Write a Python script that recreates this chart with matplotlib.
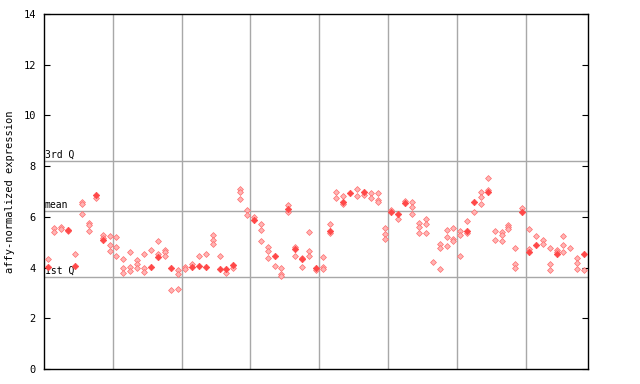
import matplotlib
matplotlib.use("Agg")
import matplotlib.pyplot as plt

# ------------------------------------------------------------
# values (sample index -> expression)
# ------------------------------------------------------------
N_SAMPLES = 79
GROUP_BOUNDS = [10, 20, 30, 40, 50, 60, 70]

Q1 = 3.63
MEAN = 6.22
Q3 = 8.21

# hollow (checkered) diamonds
hollow_x = [
    0, 1, 1, 2, 2, 3, 4, 5, 5, 5, 6, 6, 6, 7, 8, 8, 9, 9, 9, 10, 10, 10,
    11, 11, 11, 12, 12, 12, 13, 13, 13, 14, 14, 14, 15, 16, 16, 17, 17, 17,
    18, 19, 19, 19, 20, 20, 21, 22, 23, 24, 24, 24, 25, 26, 27, 28, 28, 28,
    29, 29, 30, 31, 31, 31, 32, 32, 32, 33, 34, 34, 34, 35, 35, 36, 36, 37,
    37, 38, 38, 38, 39, 40, 40, 40, 41, 41, 42, 42, 43, 43, 45, 45, 46, 47,
    47, 48, 48, 48, 49, 49, 49, 50, 51, 52, 53, 53, 53, 54, 54, 54, 55, 55,
    55, 56, 57, 57, 57, 58, 58, 58, 59, 59, 59, 60, 60, 60, 61, 61, 62, 63,
    63, 63, 64, 64, 65, 65, 66, 66, 66, 67, 67, 67, 68, 68, 68, 69, 70, 70,
    71, 72, 72, 73, 73, 73, 74, 74, 75, 75, 75, 76, 77, 77, 77, 78,
]
hollow_y = [
    4.34, 5.55, 5.42, 5.61, 5.51, 5.45, 4.52, 6.57, 6.50, 6.10, 5.75, 5.67, 5.43, 6.76, 5.27, 5.18, 5.23, 4.88, 4.64, 5.19, 4.81, 4.44,
    4.32, 3.99, 3.78, 4.60, 4.01, 3.86, 4.29, 4.15, 3.97, 4.52, 3.98, 3.81, 4.68, 5.04, 4.52, 4.68, 4.60, 4.45,
    3.10, 3.89, 3.74, 3.14, 4.01, 3.94, 4.13, 4.44, 4.52, 5.27, 5.07, 4.95, 4.44, 3.77, 3.99, 7.08, 6.97, 6.69,
    6.26, 6.06, 5.98, 5.70, 5.47, 5.04, 4.80, 4.64, 4.36, 4.05, 3.97, 3.74, 3.65, 6.45, 6.21, 4.80, 4.44, 4.38,
    4.01, 5.39, 4.64, 4.44, 3.90, 4.40, 4.01, 3.93, 5.70, 5.35, 6.97, 6.73, 6.81, 6.49, 7.08, 6.81, 6.85, 6.93,
    6.73, 6.93, 6.65, 6.57, 5.55, 5.31, 5.11, 6.26, 5.90, 6.61, 6.57, 6.37, 6.10, 5.74, 5.59, 5.35, 5.90, 5.70,
    5.35, 4.21, 4.92, 4.76, 3.93, 5.47, 5.19, 4.84, 5.55, 5.11, 5.03, 5.43, 5.27, 4.44, 5.82, 5.35, 6.18, 6.97,
    6.77, 6.49, 7.52, 7.06, 5.43, 5.07, 5.39, 5.27, 5.03, 5.67, 5.59, 5.51, 4.76, 4.13, 3.97, 6.34, 5.51, 4.72,
    5.23, 5.07, 4.92, 4.76, 4.13, 3.89, 4.68, 4.60, 5.23, 4.88, 4.60, 4.76, 4.36, 4.17, 3.93, 3.89,
]

# solid diamonds
solid_x = [0, 3, 4, 7, 8, 15, 16, 18, 21, 22, 23, 25, 26, 27, 30, 33, 35, 36, 37,
           39, 41, 43, 44, 46, 50, 51, 52, 61, 62, 64, 69, 70, 71, 74, 78]
solid_y = [4.03, 5.48, 4.07, 6.86, 5.10, 4.03, 4.43, 3.99, 4.04, 4.07, 4.03, 3.95, 3.96, 4.11, 5.86, 4.47, 6.33, 4.72, 4.32,
           3.97, 5.43, 6.57, 6.93, 6.97, 6.18, 6.10, 6.53, 5.43, 6.60, 6.97, 6.18, 4.60, 4.90, 4.52, 4.53]

Y_TICKS = [0, 2, 4, 6, 8, 10, 12, 14]

MONO = "DejaVu Sans Mono"
GRID_COLOR = "#a8a8a8"
RED = "#ff4848"
PINK = "#ffb4b4"


def main() -> None:
    fig = plt.figure(figsize=(6.4, 3.84), dpi=100)
    ax = fig.add_axes([0.069, 0.039, 0.849, 0.9245])

    ax.set_xlim(0, N_SAMPLES)
    ax.set_ylim(0, 14)

    # group separators + quartile lines
    for b in GROUP_BOUNDS:
        ax.axvline(b, color=GRID_COLOR, lw=1.0, zorder=1)
    for v in (Q1, MEAN, Q3):
        ax.axhline(v, color=GRID_COLOR, lw=1.0, zorder=1)

    ax.text(0.1, Q3 + 0.05, "3rd Q", fontsize=7, family=MONO, va="bottom", ha="left")
    ax.text(0.1, MEAN + 0.05, "mean", fontsize=7, family=MONO, va="bottom", ha="left")
    ax.text(0.1, Q1 + 0.05, "1st Q", fontsize=7, family=MONO, va="bottom", ha="left")

    hx = [i + 0.5 for i in hollow_x]
    sx = [i + 0.5 for i in solid_x]
    ax.plot(hx, hollow_y, ls="none", marker="D", ms=3.0, mfc=PINK, mec="#ff6a6a",
            mew=0.5, zorder=3)
    ax.plot(sx, solid_y, ls="none", marker="D", ms=3.3, mfc=RED, mec=RED,
            mew=0.5, zorder=4)

    ax.set_xticks([])
    ax.set_yticks(Y_TICKS)
    ax.tick_params(axis="y", direction="in", length=4, width=0.8, right=True,
                   labelsize=7.5, pad=6)
    for lab in ax.get_yticklabels():
        lab.set_family(MONO)

    for sp in ax.spines.values():
        sp.set_linewidth(1.0)
        sp.set_color("black")

    ax.set_ylabel("affy-normalized expression", family=MONO, fontsize=7.5, labelpad=6)

    fig.savefig("out.png", dpi=100)
    plt.close(fig)


if __name__ == "__main__":
    main()
